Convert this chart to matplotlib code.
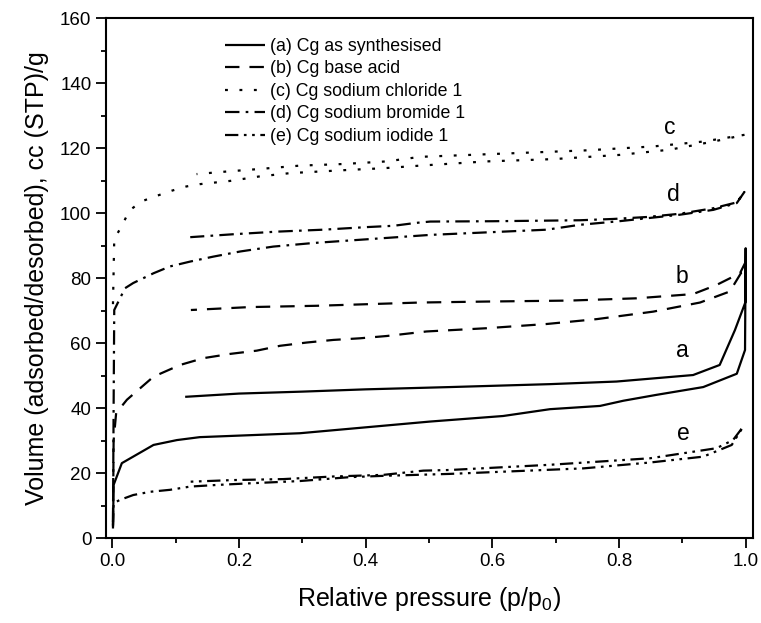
import matplotlib
matplotlib.use("Agg")
import matplotlib.pyplot as plt
from matplotlib.ticker import MultipleLocator, FormatStrFormatter

plt.rcParams['font.family'] = ['Liberation Sans', 'DejaVu Sans']
plt.rcParams['mathtext.fontset'] = 'custom'
plt.rcParams['mathtext.rm'] = 'Liberation Sans'
plt.rcParams['mathtext.it'] = 'Liberation Sans:italic'

# (a) Cg as synthesised: adsorption then desorption
a_x = [0.001, 0.002, 0.015, 0.065, 0.102, 0.138, 0.296, 0.502, 0.617, 0.691, 0.770,
       0.807, 0.859, 0.933, 0.986, 0.999, 1.0,
       1.0, 0.983, 0.959, 0.917, 0.796, 0.691, 0.533, 0.40, 0.30, 0.20, 0.115]
a_y = [3.0, 16.4, 23.1, 28.7, 30.2, 31.1, 32.3, 35.9, 37.6, 39.7, 40.7,
       42.3, 44.1, 46.5, 50.6, 57.9, 89.2,
       72.8, 64.0, 53.3, 50.2, 48.2, 47.4, 46.5, 45.8, 45.1, 44.5, 43.5]

# (b) Cg base acid
b_x = [0.001, 0.002, 0.006, 0.023, 0.065, 0.107, 0.144, 0.186, 0.228, 0.265, 0.307,
       0.349, 0.391, 0.433, 0.496, 0.591, 0.686, 0.765, 0.854, 0.928, 0.975, 0.999, 1.0,
       0.991, 0.954, 0.917, 0.828, 0.722, 0.591, 0.486, 0.323, 0.217, 0.124]
b_y = [4.0, 30.0, 38.5, 42.6, 49.7, 53.3, 55.4, 56.7, 57.7, 59.2, 60.2,
       61.0, 61.5, 62.2, 63.6, 64.6, 65.9, 67.4, 69.7, 72.5, 75.9, 83.6, 85.0,
       81.5, 77.9, 75.1, 73.8, 73.1, 72.8, 72.5, 71.5, 71.1, 70.2]

# (c) Cg sodium chloride 1
c_x = [0.001, 0.002, 0.003, 0.015, 0.027, 0.046, 0.070, 0.094, 0.117, 0.138, 0.186,
       0.233, 0.281, 0.328, 0.375, 0.428, 0.486, 0.591, 0.696, 0.801, 0.880, 0.949, 0.999,
       0.933, 0.854, 0.749, 0.644, 0.486, 0.433, 0.365, 0.296, 0.228, 0.181, 0.133]
c_y = [72.0, 82.0, 92.0, 96.1, 100.8, 103.6, 105.3, 106.9, 108.2, 108.9, 109.9,
       111.3, 112.3, 112.8, 113.3, 113.8, 114.6, 115.9, 116.6, 117.9, 119.5, 122.0, 124.1,
       122.0, 120.5, 119.3, 118.5, 117.3, 115.9, 115.1, 114.6, 113.5, 112.8, 112.0]

# (d) Cg sodium bromide 1
d_x = [0.001, 0.002, 0.003, 0.020, 0.033, 0.065, 0.091, 0.123, 0.159, 0.202, 0.254,
       0.317, 0.391, 0.502, 0.686, 0.738, 0.800, 0.896, 0.949, 0.986, 0.998,
       0.986, 0.949, 0.896, 0.844, 0.791, 0.738, 0.600, 0.502, 0.480, 0.444, 0.402,
       0.333, 0.260, 0.191, 0.123]
d_y = [5.0, 40.0, 70.2, 76.9, 78.5, 81.5, 83.6, 85.1, 86.6, 88.2, 89.7,
       90.8, 91.8, 93.3, 94.9, 96.4, 97.5, 99.5, 101.0, 103.1, 106.5,
       103.3, 101.5, 99.8, 98.8, 98.2, 97.8, 97.5, 97.4, 97.0, 96.1, 95.7,
       94.9, 94.3, 93.5, 92.6]

# (e) Cg sodium iodide 1
e_x = [0.001, 0.002, 0.012, 0.033, 0.060, 0.091, 0.123, 0.165, 0.217, 0.296, 0.375,
       0.428, 0.533, 0.744, 0.849, 0.933, 0.978, 0.996,
       0.980, 0.954, 0.849, 0.691, 0.533, 0.491, 0.428, 0.349, 0.270, 0.191, 0.123]
e_y = [3.6, 10.8, 11.8, 13.3, 14.3, 14.9, 15.9, 16.4, 16.9, 17.6, 18.8,
       19.2, 19.8, 21.5, 23.3, 25.1, 28.7, 34.3,
       30.2, 27.7, 24.6, 22.6, 21.0, 20.8, 19.5, 19.0, 18.2, 17.9, 17.4]

labels = ['(a) Cg as synthesised', '(b) Cg base acid', '(c) Cg sodium chloride 1',
          '(d) Cg sodium bromide 1', '(e) Cg sodium iodide 1']
curve_letters = ['a', 'b', 'c', 'd', 'e']
letter_x = [0.900, 0.899, 0.880, 0.886, 0.901]
letter_y = [57.7, 80.5, 126.2, 105.6, 32.1]

xs = [a_x, b_x, c_x, d_x, e_x]
ys = [a_y, b_y, c_y, d_y, e_y]
styles = [(0, ()), (0, (6.5, 4.5)), (0, (1.3, 5.2)), (0, (6.5, 2.8, 1.2, 2.8)),
          (0, (6.0, 2.5, 1.2, 2.5, 1.2, 2.5))]

fig = plt.figure(figsize=(7.61, 6.23), dpi=100)
ax = fig.add_axes([0.1393, 0.136, 0.8497, 0.8351])

for x, y, ls, lab in zip(xs, ys, styles, labels):
    ax.plot(x, y, color='black', lw=1.6, linestyle=ls, label=lab,
            solid_joinstyle='miter', dash_capstyle='butt')

for lx, ly, t in zip(letter_x, letter_y, curve_letters):
    ax.text(lx, ly, t, fontsize=16.5, ha='center', va='center')

ax.set_xlim(-0.01, 1.011)
ax.set_ylim(0, 160)
ax.xaxis.set_major_locator(MultipleLocator(0.2))
ax.xaxis.set_minor_locator(MultipleLocator(0.1))
ax.yaxis.set_major_locator(MultipleLocator(20))
ax.yaxis.set_minor_locator(MultipleLocator(10))
ax.xaxis.set_major_formatter(FormatStrFormatter('%.1f'))
ax.tick_params(which='major', direction='out', length=7, width=1.3, labelsize=13.5, pad=3.5)
ax.tick_params(which='minor', direction='out', length=3.5, width=1.3)
for s in ax.spines.values():
    s.set_linewidth(1.5)

ax.set_xlabel('Relative pressure (p/p$_0$)', fontsize=18, labelpad=11)
ax.set_ylabel('Volume (adsorbed/desorbed), cc (STP)/g', fontsize=18, labelpad=8)

ax.legend(loc='upper left', bbox_to_anchor=(0.184, 0.962), frameon=False,
          fontsize=12.8, handlelength=2.25, handletextpad=0.28, labelspacing=0.31,
          borderpad=0, borderaxespad=0)

fig.savefig('out.png', dpi=100)
